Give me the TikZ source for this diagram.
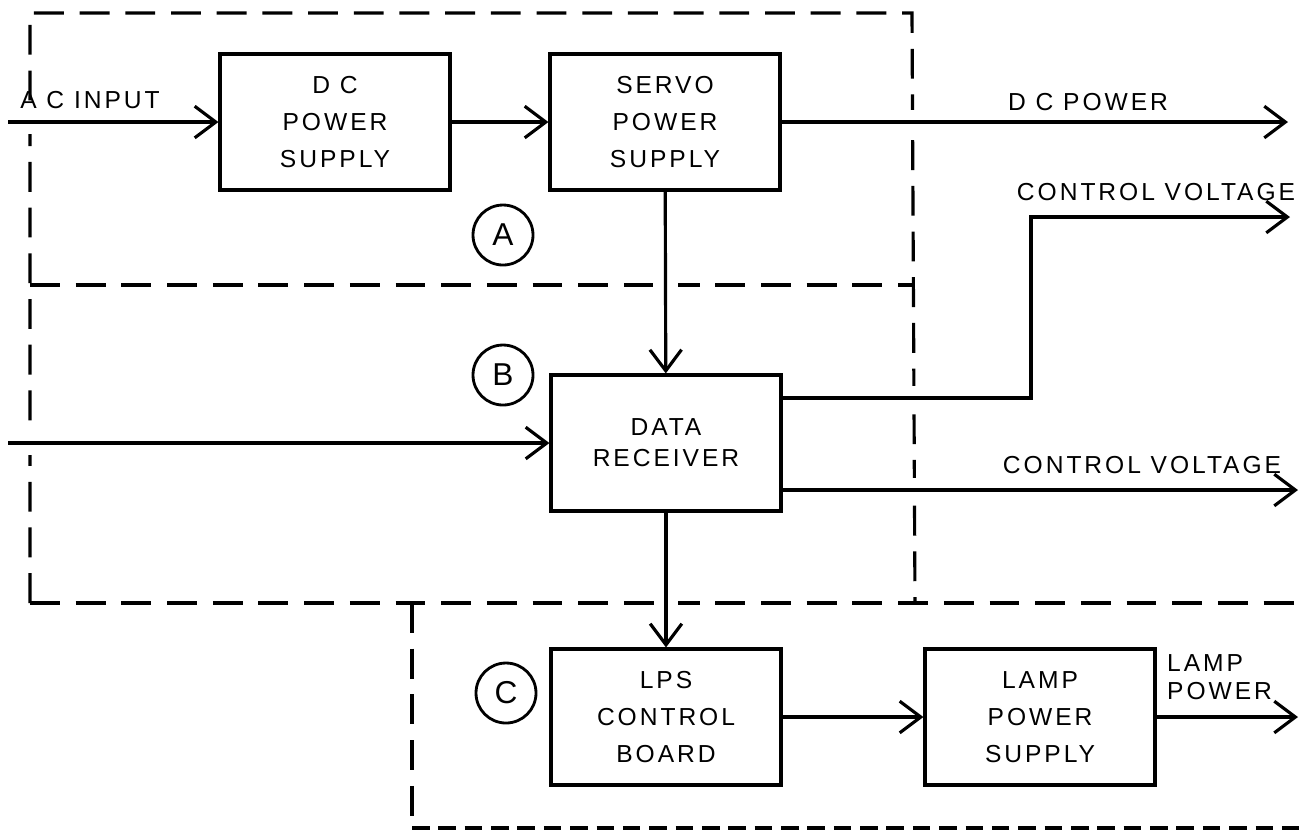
\documentclass[tikz,border=0pt]{standalone}
\usepackage{fontspec}
\newfontfamily\handfont{Liberation Sans}[LetterSpace=12]
\usetikzlibrary{arrows.meta,calc}

\begin{document}
\begin{tikzpicture}[
    box/.style={draw, line width=0.9pt, minimum width=2.3cm, minimum height=1.36cm, inner sep=0pt, align=center, font=\handfont\fontsize{7}{10.5}\selectfont},
    sig/.style={font=\handfont\fontsize{7}{8}\selectfont, inner sep=1pt, align=left},
    zone/.style={line width=0.9pt, dash pattern=on 8.5pt off 4.5pt},
    zonetight/.style={line width=0.9pt, dash pattern=on 5pt off 2.5pt},
    zonetag/.style={draw, circle, line width=0.8pt, minimum size=0.6cm, inner sep=0pt, font=\handfont\fontsize{9}{9}\selectfont},
    arr/.style={-{Straight Barb[length=6pt,width=9pt]}, line width=0.9pt, preaction={draw=white, line width=7pt, -, shorten <=2pt, shorten >=2pt}}
  ]
    \useasboundingbox (0,0) rectangle (13.05,-8.3);

    \draw[zone] (0.30,-6.03) -- (0.30,-0.13) -- (9.12,-0.13) -- (9.15,-6.03);
    \draw[zone] (0.30,-2.85) -- (9.15,-2.85);
    \draw[zone] (0.30,-6.03) -- (13.05,-6.03);
    \draw[zone] (4.12,-6.03) -- (4.12,-8.28);
    \draw[zonetight] (4.12,-8.28) -- (13.05,-8.28);

    \node[box] (dcps) at (3.35,-1.22) {D C\\POWER\\SUPPLY};
    \node[box] (servo) at (6.65,-1.22) {SERVO\\POWER\\SUPPLY};
    \node[box, font=\handfont\fontsize{7}{8.8}\selectfont] (datarx) at (6.66,-4.43) {DATA\\RECEIVER};
    \node[box] (lps) at (6.66,-7.17) {LPS\\CONTROL\\BOARD};
    \node[box] (lamp) at (10.40,-7.17) {LAMP\\POWER\\SUPPLY};

    \node[zonetag] (zoneA) at (5.03,-2.35) {A};
    \node[zonetag] (zoneB) at (5.03,-3.75) {B};
    \node[zonetag] (zoneC) at (5.06,-6.93) {C};

    \coordinate (acin) at (0.08,-1.22);
    \coordinate (dcout) at (12.88,-1.22);
    \coordinate (datain) at (0.08,-4.43);
    \coordinate (cvbend) at (10.31,-2.17);
    \coordinate (cvout1) at (12.90,-2.17);
    \coordinate (cvout2) at (12.98,-4.90);
    \coordinate (lampout) at (12.98,-7.17);

    \draw[arr] (acin) -- (dcps);
    \draw[arr] (dcps) -- (servo);
    \draw[arr] (servo) -- (dcout);
    \draw[arr] (servo) -- (datarx);
    \draw[arr] (datain) -- (datarx);
    \draw[arr] ($(datarx.east)+(0,0.45)$) -| (cvbend) -- (cvout1);
    \draw[arr] ($(datarx.east)+(0,-0.47)$) -- (cvout2);
    \draw[arr] (datarx) -- (lps);
    \draw[arr] (lps) -- (lamp);
    \draw[arr] (lamp) -- (lampout);

    \node[sig] (acinlbl) at (0.90,-1.00) {A C INPUT};
    \node[sig] (dclbl) at (10.88,-1.02) {D C POWER};
    \node[sig] (cvlbl1) at (11.56,-1.92) {CONTROL VOLTAGE};
    \node[sig] (cvlbl2) at (11.42,-4.65) {CONTROL VOLTAGE};
    \node[sig, anchor=west] (lamplbl) at (11.63,-6.77) {LAMP\\POWER};
  \end{tikzpicture}
\end{document}
